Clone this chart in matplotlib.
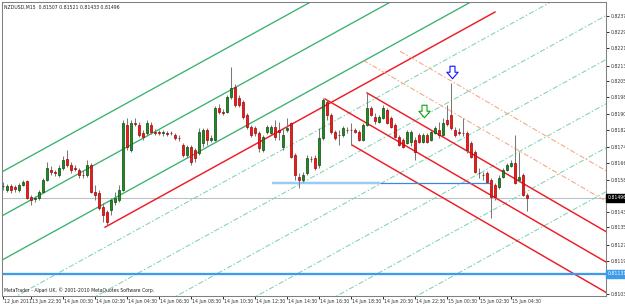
import matplotlib
matplotlib.use("Agg")
import matplotlib.pyplot as plt
import matplotlib.transforms as mtransforms
from matplotlib.path import Path

# ---------------- data ----------------
title_text = "NZDUSD,M15  0.81507 0.81521 0.81433 0.81496"
footer_text = "MetaTrader - Alpari UK, \u00a9 2001-2010 MetaQuotes Software Corp."

opens = [0.81552, 0.81533, 0.81552, 0.81547, 0.81533, 0.81557, 0.81576, 0.81499, 0.81490, 0.81495,
         0.81523, 0.81581, 0.81629, 0.81619, 0.81605, 0.81639, 0.81682, 0.81653, 0.81639, 0.81629,
         0.81605, 0.81605, 0.81653, 0.81523, 0.81519, 0.81451, 0.81427, 0.81437, 0.81475, 0.81485,
         0.81533, 0.81845, 0.81725, 0.81855, 0.81845, 0.81807, 0.81807, 0.81845, 0.81811, 0.81811,
         0.81807, 0.81807, 0.81807, 0.81797, 0.81783, 0.81749, 0.81701, 0.81739, 0.81725, 0.81711,
         0.81759, 0.81821, 0.81773, 0.81773, 0.81927, 0.81907, 0.81907, 0.81979, 0.82027, 0.81975,
         0.81955, 0.81893, 0.81835, 0.81831, 0.81807, 0.81725, 0.81811, 0.81807, 0.81835, 0.81821,
         0.81739, 0.81821, 0.81855, 0.81701, 0.81595, 0.81581, 0.81615, 0.81682, 0.81687, 0.81653,
         0.81783, 0.81955, 0.81893, 0.81811, 0.81797, 0.81797, 0.81821, 0.81821, 0.81821, 0.81811,
         0.81773, 0.81845, 0.81927, 0.81883, 0.81859, 0.81879, 0.81917, 0.81879, 0.81845, 0.81787,
         0.81773, 0.81759, 0.81763, 0.81773, 0.81797, 0.81763, 0.81797, 0.81773, 0.81807, 0.81821,
         0.81797, 0.81869, 0.81893, 0.81821, 0.81811, 0.81807, 0.81807, 0.81759, 0.81715, 0.81615,
         0.81605, 0.81615, 0.81581, 0.81557, 0.81547, 0.81595, 0.81629, 0.81648, 0.81663, 0.81581,
         0.81605, 0.81507]
highs = [0.81571, 0.81562, 0.81562, 0.81557, 0.81567, 0.81581, 0.81581, 0.81509, 0.81504, 0.81533,
         0.81591, 0.81667, 0.81648, 0.81629, 0.81653, 0.81696, 0.81725, 0.81667, 0.81653, 0.81639,
         0.81629, 0.81677, 0.81663, 0.81557, 0.81533, 0.81471, 0.81437, 0.81495, 0.81523, 0.81557,
         0.81869, 0.81879, 0.81869, 0.81879, 0.81859, 0.81821, 0.81869, 0.81859, 0.81826, 0.81821,
         0.81821, 0.81816, 0.81816, 0.81807, 0.81797, 0.81759, 0.81749, 0.81749, 0.81735, 0.81831,
         0.81831, 0.81831, 0.81797, 0.81936, 0.81946, 0.81922, 0.81989, 0.82123, 0.82042, 0.81989,
         0.81965, 0.81903, 0.81845, 0.81840, 0.81816, 0.81797, 0.81845, 0.81845, 0.81869, 0.81859,
         0.81831, 0.81879, 0.81859, 0.81711, 0.81615, 0.81619, 0.81701, 0.81696, 0.81701, 0.81831,
         0.81975, 0.81965, 0.81903, 0.81821, 0.81821, 0.81840, 0.81835, 0.81855, 0.81831, 0.81821,
         0.81855, 0.81999, 0.81936, 0.81903, 0.81893, 0.81941, 0.81927, 0.81888, 0.81855, 0.81797,
         0.81783, 0.81821, 0.81821, 0.81787, 0.81807, 0.81807, 0.81807, 0.81821, 0.81840, 0.81859,
         0.81879, 0.81941, 0.82047, 0.81835, 0.81831, 0.81879, 0.81816, 0.81768, 0.81725, 0.81639,
         0.81619, 0.81624, 0.81591, 0.81567, 0.81605, 0.81639, 0.81663, 0.81677, 0.81797, 0.81715,
         0.81615, 0.81521]
lows = [0.81533, 0.81523, 0.81519, 0.81523, 0.81523, 0.81552, 0.81490, 0.81461, 0.81475, 0.81485,
        0.81519, 0.81576, 0.81605, 0.81600, 0.81595, 0.81629, 0.81643, 0.81615, 0.81624, 0.81591,
        0.81591, 0.81595, 0.81519, 0.81485, 0.81437, 0.81379, 0.81365, 0.81413, 0.81461, 0.81475,
        0.81528, 0.81725, 0.81715, 0.81840, 0.81787, 0.81773, 0.81797, 0.81802, 0.81797, 0.81797,
        0.81792, 0.81792, 0.81797, 0.81773, 0.81768, 0.81691, 0.81687, 0.81653, 0.81667, 0.81701,
        0.81739, 0.81749, 0.81763, 0.81768, 0.81898, 0.81893, 0.81903, 0.81970, 0.81931, 0.81931,
        0.81874, 0.81826, 0.81787, 0.81792, 0.81715, 0.81715, 0.81802, 0.81797, 0.81773, 0.81773,
        0.81725, 0.81811, 0.81687, 0.81581, 0.81543, 0.81571, 0.81605, 0.81667, 0.81629, 0.81639,
        0.81773, 0.81869, 0.81802, 0.81773, 0.81749, 0.81787, 0.81807, 0.81749, 0.81807, 0.81768,
        0.81768, 0.81840, 0.81888, 0.81850, 0.81855, 0.81874, 0.81850, 0.81831, 0.81783, 0.81744,
        0.81735, 0.81754, 0.81744, 0.81677, 0.81759, 0.81759, 0.81759, 0.81768, 0.81802, 0.81783,
        0.81792, 0.81840, 0.81821, 0.81787, 0.81797, 0.81792, 0.81711, 0.81687, 0.81615, 0.81591,
        0.81581, 0.81567, 0.81399, 0.81485, 0.81538, 0.81591, 0.81624, 0.81643, 0.81562, 0.81571,
        0.81504, 0.81433]
closes = [0.81552, 0.81552, 0.81533, 0.81538, 0.81557, 0.81571, 0.81495, 0.81485, 0.81495, 0.81523,
          0.81581, 0.81639, 0.81619, 0.81615, 0.81639, 0.81677, 0.81653, 0.81629, 0.81636, 0.81605,
          0.81603, 0.81653, 0.81523, 0.81509, 0.81447, 0.81413, 0.81379, 0.81485, 0.81495, 0.81533,
          0.81855, 0.81739, 0.81855, 0.81852, 0.81797, 0.81787, 0.81855, 0.81811, 0.81809, 0.81807,
          0.81811, 0.81802, 0.81805, 0.81783, 0.81781, 0.81701, 0.81739, 0.81667, 0.81687, 0.81811,
          0.81821, 0.81773, 0.81783, 0.81927, 0.81907, 0.81905, 0.81979, 0.82023, 0.81941, 0.81941,
          0.81883, 0.81835, 0.81797, 0.81807, 0.81735, 0.81787, 0.81835, 0.81835, 0.81787, 0.81811,
          0.81797, 0.81831, 0.81691, 0.81605, 0.81581, 0.81605, 0.81687, 0.81680, 0.81639, 0.81783,
          0.81965, 0.81893, 0.81811, 0.81783, 0.81795, 0.81831, 0.81819, 0.81819, 0.81811, 0.81773,
          0.81845, 0.81927, 0.81893, 0.81864, 0.81883, 0.81927, 0.81855, 0.81835, 0.81787, 0.81749,
          0.81739, 0.81811, 0.81811, 0.81715, 0.81763, 0.81797, 0.81763, 0.81811, 0.81831, 0.81797,
          0.81855, 0.81850, 0.81831, 0.81797, 0.81809, 0.81805, 0.81725, 0.81691, 0.81619, 0.81613,
          0.81603, 0.81571, 0.81499, 0.81499, 0.81591, 0.81629, 0.81653, 0.81663, 0.81567, 0.81595,
          0.81509, 0.81496]

time_labels = ["12 Jun 2011", "13 Jun 22:30", "14 Jun 00:30", "14 Jun 02:30", "14 Jun 04:30",
               "14 Jun 06:30", "14 Jun 08:30", "14 Jun 10:30", "14 Jun 12:30", "14 Jun 14:30",
               "14 Jun 16:30", "14 Jun 18:30", "14 Jun 20:30", "14 Jun 22:30", "15 Jun 00:30",
               "15 Jun 02:30", "15 Jun 04:30"]
time_label_bars = [0, 7, 15, 23, 31, 39, 47, 55, 63, 71, 79, 87, 95, 103, 111, 119, 127]

price_ticks = [0.82370, 0.82290, 0.82215, 0.82130, 0.82055, 0.81980, 0.81900, 0.81820,
               0.81740, 0.81665, 0.81580, 0.81430, 0.81355, 0.81270, 0.81195, 0.81115, 0.81035]

bid_price = 0.81496
level_price = 0.81131

# green channel (price at bar 0, common slope per bar)
green_slope = 0.0001056
green_solid_levels = [0.81623, 0.81412, 0.81200]
green_dash_levels = [0.80989, 0.80778, 0.80567, 0.80355, 0.80144, 0.79933]

# red rising trendline (bar, price anchors)
red_trend_bars = [25.5, 123.0]
red_trend_prices = [0.81355, 0.82387]

# blue horizontal segment (start, end of highlighted part, end)
blue_seg_bars = [67.25, 94.25, 121.75]
blue_seg_price = 0.81567

# descending pitchfork anchors
pf_bars = [80.5, 91.0, 87.25]
pf_prices = [0.81970, 0.81999, 0.81749]
pf_extra_mult = [2, 3]
pf_extra_start = [90.0, 99.25]

# arrows (bar, price at top of arrow)
arrow_bars = [112.25, 105.25]
arrow_prices = [0.82128, 0.81941]
arrow_colors = ["#1010ff", "#10a010"]

# ---------------- figure ----------------
W, H = 625, 304
FS = 3.3
fig = plt.figure(figsize=(W / 100, H / 100), dpi=100)
fig.patch.set_facecolor("white")
ax = fig.add_axes([2 / W, (H - 296) / H, 604 / W, 294 / H])
XMIN, XMAX = -0.25, 150.75
ax.set_xlim(XMIN, XMAX)
ax.set_ylim(0.81025, 0.82435)
ax.set_facecolor("white")

LW = 0.75  # one pixel

# green channel
for p0 in green_solid_levels:
    ax.plot([XMIN, XMAX], [p0 + green_slope * XMIN, p0 + green_slope * XMAX],
            color="#3cb371", lw=LW * 1.3, zorder=2)
for p0 in green_dash_levels:
    ax.plot([XMIN, XMAX], [p0 + green_slope * XMIN, p0 + green_slope * XMAX],
            color="#7fd3b0", lw=LW, ls=(0, (5, 2, 1.5, 2)), zorder=2)

# red rising trendline
ax.plot(red_trend_bars, red_trend_prices, color="#ee1c25", lw=LW * 1.4, zorder=2)

# pitchfork
b1, b2, b3 = pf_bars
p1, p2, p3 = pf_prices
mb, mp = (b2 + b3) / 2, (p2 + p3) / 2
pf_slope = (mp - p1) / (mb - b1)
for b, p in zip(pf_bars, pf_prices):
    ax.plot([b, XMAX], [p, p + pf_slope * (XMAX - b)], color="#ee1c25", lw=LW * 1.4, zorder=2)
off = (p2 + pf_slope * (b1 - b2)) - p1
for m, sb in zip(pf_extra_mult, pf_extra_start):
    ps = p1 + m * off + pf_slope * (sb - b1)
    ax.plot([sb, XMAX], [ps, ps + pf_slope * (XMAX - sb)], color="#f4a582",
            lw=LW, ls=(0, (5, 2, 1.5, 2)), zorder=2)

# horizontal lines
ax.axhline(bid_price, color="#b8c0cc", lw=LW, zorder=1)
ax.axhline(level_price, color="#3d9be9", lw=LW * 2.2, zorder=2)
ax.plot(blue_seg_bars[:2], [blue_seg_price] * 2, color="#9ccbf2", lw=LW * 2.4, zorder=2,
        solid_capstyle="butt")
ax.plot(blue_seg_bars[1:], [blue_seg_price] * 2, color="#3f86dc", lw=LW * 1.2, zorder=2,
        solid_capstyle="butt")

# candles
for i, (o, h, l, c) in enumerate(zip(opens, highs, lows, closes)):
    ax.plot([i, i], [l, h], color="#7a7a7a", lw=LW, zorder=3, solid_capstyle="butt")
    up = c >= o
    fc = "#1f8a1f" if up else "#ec1c1c"
    ec = "#0a4a0a" if up else "#a80000"
    lo, hi = min(o, c), max(o, c)
    hgt = max(hi - lo, 0.00002)
    ax.bar(i, hgt, bottom=lo, width=0.7, color=fc, edgecolor=ec, linewidth=0.5, zorder=4)

# arrows
arrow_path = Path([(-0.2, 0.5), (0.2, 0.5), (0.2, 0.02), (0.45, 0.02), (0.0, -0.5),
                   (-0.45, 0.02), (-0.2, 0.02), (-0.2, 0.5)],
                  [Path.MOVETO] + [Path.LINETO] * 6 + [Path.CLOSEPOLY])
for b, p, col in zip(arrow_bars, arrow_prices, arrow_colors):
    ax.plot([b], [p - 0.00028], marker=arrow_path, ms=9, mfc="white", mec=col, mew=0.8, zorder=6)

# axes styling
for s in ax.spines.values():
    s.set_color("#808080")
    s.set_linewidth(LW)
ax.yaxis.tick_right()
ax.set_yticks(price_ticks)
ax.set_yticklabels([f"{v:.5f}" for v in price_ticks])
ax.tick_params(axis="y", length=2, width=LW, pad=1.2, labelsize=FS, colors="#333333")
ax.set_xticks(time_label_bars)
ax.set_xticklabels(time_labels)
ax.tick_params(axis="x", length=2.5, width=LW, pad=0, labelsize=FS, colors="#333333")
shift = mtransforms.ScaledTranslation(1.5 / 100, 0, fig.dpi_scale_trans)
for lbl in ax.get_xticklabels():
    lbl.set_ha("left")
    lbl.set_transform(lbl.get_transform() + shift)

# price boxes
tr = mtransforms.blended_transform_factory(ax.transAxes, ax.transData)
ax.text(1.003, bid_price, f"{bid_price:.5f}", transform=tr, ha="left", va="center", fontsize=FS,
        color="white", bbox=dict(boxstyle="square,pad=0.35", fc="black", ec="black"), zorder=10,
        clip_on=False)
ax.text(1.003, level_price, f"{level_price:.5f}", transform=tr, ha="left", va="center", fontsize=FS,
        color="white", bbox=dict(boxstyle="square,pad=0.35", fc="#3d9be9", ec="#3d9be9"), zorder=10,
        clip_on=False)

# texts
fig.text(4 / W, 1 - 7 / H, title_text, fontsize=FS, color="#222222", ha="left", va="center")
ax.text(0.003, 0.02, footer_text, transform=ax.transAxes, fontsize=FS, color="#222222",
        ha="left", va="center")

fig.savefig("out.png", dpi=100, facecolor="white")
